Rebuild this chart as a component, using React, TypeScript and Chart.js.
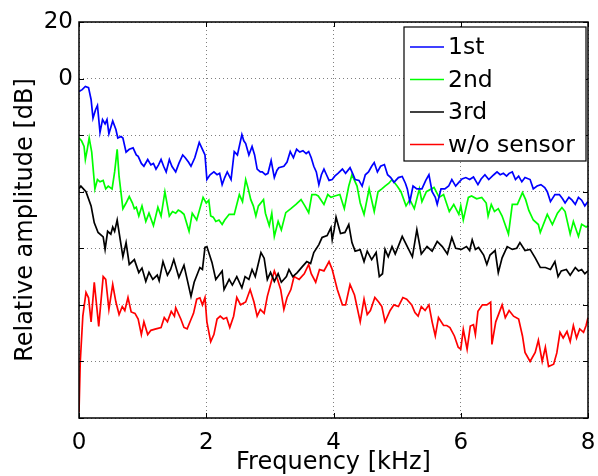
import { useEffect, useRef } from 'react';
import { Chart, registerables } from 'chart.js';

Chart.register(...registerables);

// ---- data (frequency in kHz, relative amplitude in dB) ----
const freq1st = [0.00,0.05,0.10,0.15,0.19,0.22,0.26,0.29,0.33,0.37,0.41,0.44,0.47,0.53,0.58,0.61,0.66,0.69,0.74,0.79,0.85,0.90,0.93,0.98,1.02,1.08,1.13,1.17,1.21,1.25,1.29,1.33,1.37,1.42,1.46,1.52,1.57,1.63,1.67,1.72,1.76,1.82,1.89,1.94,1.98,2.01,2.06,2.12,2.17,2.21,2.25,2.29,2.33,2.39,2.44,2.49,2.56,2.59,2.62,2.67,2.72,2.76,2.80,2.85,2.88,2.93,2.97,3.02,3.07,3.11,3.14,3.22,3.27,3.32,3.37,3.42,3.47,3.52,3.57,3.61,3.65,3.69,3.73,3.77,3.81,3.85,3.89,3.93,3.98,4.02,4.07,4.14,4.19,4.26,4.30,4.34,4.40,4.45,4.50,4.55,4.60,4.64,4.69,4.74,4.80,4.85,4.90,4.95,5.02,5.08,5.13,5.16,5.20,5.25,5.31,5.39,5.45,5.50,5.55,5.60,5.63,5.69,5.75,5.81,5.86,5.92,5.97,6.02,6.08,6.14,6.20,6.27,6.32,6.38,6.44,6.52,6.57,6.62,6.67,6.72,6.76,6.81,6.86,6.91,6.96,7.01,7.09,7.14,7.20,7.26,7.32,7.36,7.41,7.48,7.55,7.60,7.64,7.70,7.75,7.80,7.85,7.90,7.95,8.00];
const amp1st = [-4.6,-3.9,-2.8,-3.2,-7.4,-14,-11,-9.5,-19,-14.5,-16,-14.5,-19.5,-15,-18,-21,-20.5,-21,-26,-25,-24.5,-27,-27.5,-30,-31,-28.6,-30.5,-30,-32,-30.5,-28.6,-31,-33,-28.6,-31,-33,-30,-27,-28,-29.5,-31,-28,-22.6,-25,-27,-35.7,-34,-33,-34,-33.5,-37.5,-35,-33,-35.7,-25.8,-27,-19.8,-22,-23,-27,-24,-27,-32,-33,-33,-34,-33.5,-29,-35,-32.5,-31.5,-31,-29.5,-25.8,-28,-25,-26,-25.5,-26.5,-25.8,-28,-31,-33,-37.5,-34,-32,-34,-36,-35.7,-34.5,-33.5,-32,-33.5,-31.5,-33.5,-35.7,-36,-38,-34,-33,-31,-29.7,-33,-31,-30.4,-34,-35,-36.7,-35,-34.6,-37,-39,-43.5,-38,-39,-39,-36,-34,-40,-42,-44.5,-39,-39,-38,-35.7,-38,-36.7,-35.5,-35,-35.7,-34.8,-37.5,-35.5,-34,-35.7,-34,-33,-34,-33.5,-34.5,-33.5,-33,-35.7,-34.5,-36.5,-35,-35.7,-39,-38,-37.5,-38.5,-40,-43.5,-41,-41,-42.5,-44,-42,-43,-44.5,-42,-43,-45,-43.5];

const freq2nd = [0.00,0.04,0.08,0.10,0.13,0.16,0.20,0.25,0.29,0.33,0.38,0.42,0.46,0.52,0.56,0.60,0.63,0.69,0.74,0.79,0.84,0.87,0.90,0.94,0.99,1.05,1.10,1.17,1.24,1.29,1.35,1.42,1.47,1.52,1.56,1.60,1.65,1.73,1.78,1.85,1.95,2.00,2.04,2.07,2.11,2.15,2.20,2.25,2.29,2.36,2.44,2.52,2.57,2.62,2.66,2.70,2.74,2.78,2.82,2.90,2.93,2.99,3.03,3.07,3.13,3.18,3.25,3.33,3.41,3.49,3.55,3.61,3.66,3.72,3.76,3.85,3.91,3.96,4.02,4.10,4.17,4.24,4.29,4.37,4.42,4.48,4.56,4.64,4.70,4.76,4.81,4.87,4.92,5.00,5.06,5.14,5.20,5.27,5.35,5.39,5.46,5.58,5.66,5.73,5.82,5.89,5.97,6.00,6.04,6.12,6.17,6.25,6.33,6.40,6.43,6.48,6.53,6.59,6.65,6.75,6.81,6.89,6.97,7.02,7.07,7.14,7.22,7.25,7.36,7.44,7.52,7.59,7.64,7.72,7.77,7.85,7.90,7.97,8.00];
const amp2nd = [-21,-22,-24,-28.6,-25,-21,-26,-39,-35.7,-36.5,-36,-39,-38,-39,-33,-25,-34.6,-46,-44,-41.7,-44,-46,-45.5,-48.6,-45,-50.5,-47.6,-52,-45.5,-48.6,-40,-48.6,-47,-47.6,-46.5,-47,-48,-54,-47.6,-50,-42,-44,-43,-48.6,-49,-50.5,-50,-51.6,-50,-48,-48,-41,-43.5,-35.7,-39,-42.8,-45,-48.6,-45,-42.8,-47.6,-52,-47.6,-55.8,-50.5,-53.5,-47.4,-46,-44.5,-42.8,-45,-47.4,-41,-41,-41.5,-44.5,-41,-42,-41.5,-41,-46,-38,-34,-38,-44,-48,-39,-47,-40,-39,-38,-37,-35.7,-38,-40,-45,-42.8,-46,-39,-43.5,-40,-38.5,-42,-41,-47,-44.5,-48,-45,-50,-42,-41.5,-42.5,-42,-44,-48.6,-44.5,-47,-46,-48.6,-55,-44.5,-44.5,-40.3,-42.8,-46.6,-50,-51.6,-54.4,-48,-51.6,-47.6,-45.6,-47,-55,-50.5,-55.8,-51.5,-52.5,-52];

const freq3rd = [0.00,0.03,0.11,0.19,0.24,0.30,0.38,0.41,0.45,0.50,0.53,0.56,0.60,0.63,0.69,0.74,0.79,0.87,0.94,0.99,1.05,1.10,1.16,1.23,1.26,1.32,1.39,1.44,1.49,1.57,1.65,1.70,1.76,1.81,1.90,1.94,1.98,2.01,2.09,2.15,2.20,2.25,2.28,2.36,2.41,2.48,2.56,2.61,2.67,2.72,2.77,2.86,2.91,2.96,3.01,3.07,3.13,3.18,3.26,3.30,3.36,3.43,3.51,3.58,3.64,3.69,3.77,3.82,3.90,3.96,3.98,4.01,4.04,4.11,4.18,4.24,4.29,4.34,4.42,4.48,4.53,4.60,4.67,4.72,4.77,4.81,4.86,4.92,4.97,5.08,5.16,5.24,5.31,5.38,5.47,5.55,5.63,5.71,5.79,5.86,5.92,6.01,6.09,6.14,6.18,6.23,6.28,6.36,6.41,6.46,6.54,6.59,6.65,6.73,6.81,6.88,6.93,7.01,7.09,7.17,7.25,7.33,7.41,7.48,7.53,7.58,7.66,7.72,7.80,7.85,7.90,7.95,8.00];
const amp3rd = [-39,-38,-40,-45,-51,-54.4,-56,-60.4,-54,-55,-52.5,-54,-50,-54.4,-63,-58,-65.7,-64,-68.6,-67,-71.7,-68.5,-71,-69.5,-71.5,-64.7,-69.5,-67.5,-64,-70.3,-66,-71,-77,-72,-66.8,-67.5,-59.7,-59.4,-65,-71,-69.5,-68,-74.6,-71,-73,-70,-74,-70,-71,-67.5,-70,-61.5,-63.5,-71,-68.5,-71.7,-69,-72,-70,-67.5,-70,-68.6,-66.5,-64.7,-65.4,-61.5,-58.7,-56.2,-55.5,-52.7,-57,-53.5,-49,-54.8,-54.4,-51.6,-58,-61,-60.5,-64.7,-61,-64,-61.5,-70,-69,-60.4,-63,-59.4,-62,-55.8,-59.4,-63,-53.4,-62,-59.4,-61,-57.6,-59.4,-62,-56.2,-60,-60.4,-59.4,-60.8,-57,-60.4,-59.7,-62.4,-65.7,-62.4,-60.8,-68.6,-63.4,-59.4,-60.4,-60,-58,-60.8,-60.4,-63.4,-66.8,-66.8,-67.5,-64.7,-70,-68,-67.5,-69.5,-66.8,-68,-67.5,-69,-68];

const freqNoSensor = [0.00,0.02,0.06,0.11,0.15,0.19,0.24,0.31,0.38,0.42,0.47,0.53,0.58,0.63,0.68,0.72,0.77,0.82,0.88,0.93,0.98,1.02,1.08,1.13,1.21,1.29,1.34,1.39,1.45,1.50,1.52,1.60,1.65,1.70,1.75,1.80,1.85,1.90,1.94,1.98,2.01,2.07,2.12,2.17,2.22,2.27,2.32,2.37,2.43,2.48,2.54,2.62,2.69,2.75,2.80,2.85,2.91,2.96,3.02,3.07,3.12,3.17,3.22,3.27,3.33,3.38,3.46,3.54,3.61,3.65,3.72,3.78,3.85,3.93,3.98,4.06,4.14,4.19,4.26,4.33,4.42,4.48,4.53,4.58,4.65,4.71,4.76,4.81,4.89,4.95,5.02,5.09,5.15,5.23,5.28,5.33,5.38,5.44,5.50,5.55,5.60,5.65,5.73,5.78,5.83,5.90,5.96,6.00,6.04,6.10,6.15,6.20,6.23,6.27,6.34,6.41,6.47,6.49,6.55,6.65,6.70,6.76,6.83,6.91,6.97,7.01,7.09,7.17,7.22,7.28,7.33,7.38,7.46,7.51,7.56,7.61,7.67,7.72,7.77,7.82,7.87,7.93,7.97,8.00];
const ampNoSensor = [-118,-100,-84,-75.6,-77.5,-86,-72,-87.6,-70,-71,-81.6,-72.8,-79,-83.4,-80.6,-82,-77.4,-82.5,-83,-85,-90.5,-86,-90.5,-89,-88.5,-88,-84.5,-86,-82.3,-84,-81,-85,-88,-88.5,-85.7,-83,-78,-77.5,-80,-77.4,-86,-93,-90.5,-85,-84,-85,-84.5,-88,-84,-77.4,-80,-79,-74.6,-79,-84,-81.6,-83,-77,-72,-68,-71,-74.6,-81.6,-77.4,-74.6,-70,-71,-69,-65.7,-69,-72,-67.5,-68,-64.7,-67.5,-74.6,-80,-80,-72.8,-76.5,-86,-78,-83.4,-82,-77.4,-79,-80.6,-86,-82,-80,-80.6,-77.4,-78,-80,-82.7,-84,-80.6,-82,-80,-86,-91,-84.5,-87.3,-87.3,-88,-91,-95,-95.7,-88.7,-95.7,-87.5,-87,-90.5,-82.3,-80,-80,-79,-94,-86,-80,-84.5,-82,-84,-85,-91,-96.8,-100,-96.8,-92.5,-100,-95,-101.8,-101,-97,-89.7,-91.7,-89.4,-93,-87.3,-91.7,-88.5,-89.7,-87.3,-84.5];

const seriesLabels = ['1st', '2nd', '3rd', 'w/o sensor'];
const seriesColors = ['#0000ff', '#00ff00', '#000000', '#ff0000'];
const yLabeledTicks = [20, 0];
const xAxisTitle = 'Frequency [kHz]';
const yAxisTitle = 'Relative amplitude [dB]';

const FONT = '"DejaVu Sans", sans-serif';

function pairs(xs: number[], ys: number[]) {
  return xs.map((x, i) => ({ x, y: ys[i] }));
}

const framePlugin = {
  id: 'frameTicks',
  afterDatasetsDraw(chart: any) {
    const { ctx, chartArea } = chart;
    const { left, top, right, bottom } = chartArea;
    const xs = chart.scales.x;
    const ys = chart.scales.y;
    ctx.save();
    ctx.strokeStyle = '#000';
    ctx.lineWidth = 1;
    ctx.beginPath();
    xs.ticks.forEach((t: any) => {
      const px = Math.round(xs.getPixelForValue(t.value)) + 0.5;
      ctx.moveTo(px, bottom); ctx.lineTo(px, bottom - 5);
      ctx.moveTo(px, top); ctx.lineTo(px, top + 5);
    });
    ys.ticks.forEach((t: any) => {
      const py = Math.round(ys.getPixelForValue(t.value)) + 0.5;
      ctx.moveTo(left, py); ctx.lineTo(left + 5, py);
      ctx.moveTo(right, py); ctx.lineTo(right - 5, py);
    });
    ctx.stroke();
    ctx.lineWidth = 1.5;
    ctx.strokeRect(left, top, right - left, bottom - top);
    ctx.restore();
  },
};

const legendPlugin = {
  id: 'insideLegend',
  afterDraw(chart: any) {
    const { ctx } = chart;
    const bx = 404, by = 27, bw = 182, bh = 134;
    ctx.save();
    ctx.fillStyle = '#fff';
    ctx.fillRect(bx, by, bw, bh);
    ctx.strokeStyle = '#000';
    ctx.lineWidth = 1.2;
    ctx.strokeRect(bx, by, bw, bh);
    ctx.font = `23.5px ${FONT}`;
    ctx.textBaseline = 'middle';
    ctx.textAlign = 'left';
    chart.data.datasets.forEach((ds: any, i: number) => {
      const cy = by + 20 + i * 32.5;
      ctx.strokeStyle = ds.borderColor;
      ctx.lineWidth = 1.5;
      ctx.beginPath();
      ctx.moveTo(bx + 6, cy);
      ctx.lineTo(bx + 40, cy);
      ctx.stroke();
      ctx.fillStyle = '#000';
      ctx.fillText(ds.label, bx + 44, cy + 1);
    });
    ctx.restore();
  },
};

export default function App() {
  const ref = useRef<HTMLCanvasElement | null>(null);

  useEffect(() => {
    if (!ref.current) return;
    const xsArr = [freq1st, freq2nd, freq3rd, freqNoSensor];
    const ysArr = [amp1st, amp2nd, amp3rd, ampNoSensor];
    const chart = new Chart(ref.current, {
      type: 'line',
      data: {
        datasets: seriesLabels.map((label, i) => ({
          label,
          data: pairs(xsArr[i], ysArr[i]),
          borderColor: seriesColors[i],
          backgroundColor: seriesColors[i],
          borderWidth: 1.7,
          pointRadius: 0,
          tension: 0,
          fill: false,
        })),
      },
      options: {
        responsive: false,
        animation: false,
        devicePixelRatio: 1,
        layout: { padding: { top: 22, right: 10, left: 0, bottom: 0 } },
        plugins: {
          legend: { display: false },
          tooltip: { enabled: false },
        },
        scales: {
          x: {
            type: 'linear',
            min: 0,
            max: 8,
            afterFit: (s: any) => { s.height = 58; s.paddingRight = 0; s.paddingLeft = 0; },
            ticks: {
              stepSize: 2,
              color: '#000',
              padding: 11,
              maxRotation: 0,
              font: { family: FONT, size: 23 },
            },
            grid: {
              color: 'rgba(0,0,0,0.5)',
              lineWidth: 1,
              drawTicks: false,
            },
            border: { display: false, dash: [1, 3] },
            title: {
              display: true,
              text: xAxisTitle,
              color: '#000',
              font: { family: FONT, size: 24, lineHeight: 1.2 },
              padding: { top: 0, bottom: -1 },
            },
          },
          y: {
            type: 'linear',
            min: -120,
            max: 20,
            afterFit: (s: any) => { s.width = 79; },
            ticks: {
              stepSize: 20,
              color: '#000',
              padding: 6,
              font: { family: FONT, size: 23 },
              callback: (v: any) => (yLabeledTicks.includes(Number(v)) ? String(v) : ''),
            },
            grid: {
              color: 'rgba(0,0,0,0.5)',
              lineWidth: 1,
              drawTicks: false,
            },
            border: { display: false, dash: [1, 3] },
            title: {
              display: true,
              text: yAxisTitle,
              color: '#000',
              font: { family: FONT, size: 24, lineHeight: 1.2 },
              padding: { top: 11, bottom: 0 },
            },
          },
        },
      },
      plugins: [framePlugin, legendPlugin],
    });
    return () => chart.destroy();
  }, []);

  return (
    <div style={{ position: 'fixed', left: 0, top: 0, width: 598, height: 476, background: '#fff' }}>
      <canvas ref={ref} width={598} height={476} style={{ width: 598, height: 476, display: 'block' }} />
    </div>
  );
}
